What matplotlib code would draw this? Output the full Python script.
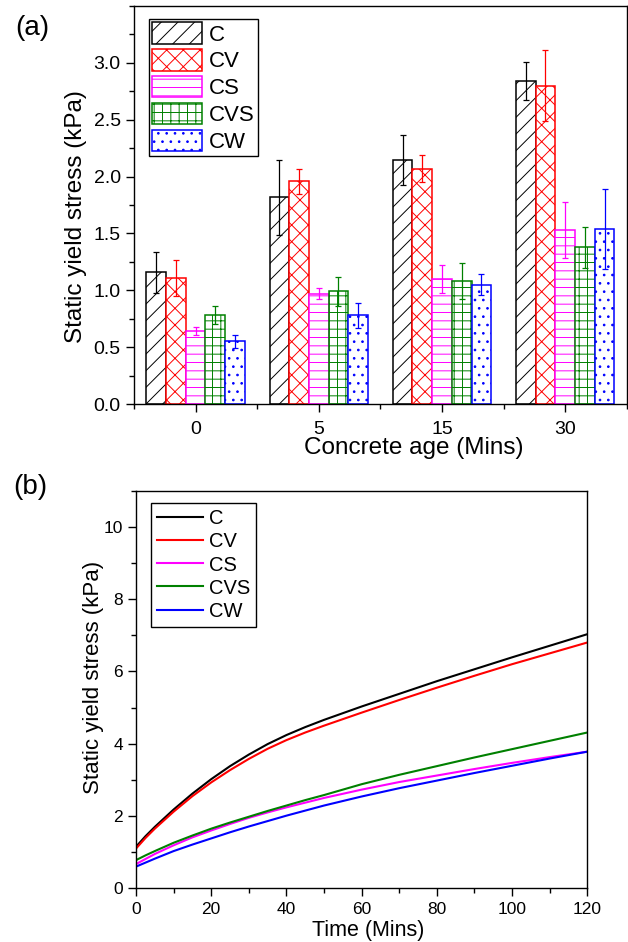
import numpy as np
import matplotlib
matplotlib.use("Agg")
import matplotlib.pyplot as plt
from matplotlib.ticker import MultipleLocator, FixedLocator

plt.rcParams['font.family'] = ['Liberation Sans', 'DejaVu Sans']
plt.rcParams['hatch.linewidth'] = 0.7

# ---- (a) bar data ----
ages = ['0', '5', '15', '30']
mixes = ['C', 'CV', 'CS', 'CVS', 'CW']

C_mean = [1.16, 1.82, 2.15, 2.84]
C_err = [0.18, 0.33, 0.22, 0.17]
CV_mean = [1.11, 1.96, 2.07, 2.80]
CV_err = [0.16, 0.11, 0.12, 0.31]
CS_mean = [0.64, 0.97, 1.10, 1.53]
CS_err = [0.035, 0.05, 0.12, 0.25]
CVS_mean = [0.78, 0.99, 1.08, 1.38]
CVS_err = [0.08, 0.125, 0.16, 0.18]
CW_mean = [0.55, 0.78, 1.05, 1.54]
CW_err = [0.055, 0.11, 0.09, 0.35]

# ---- (b) fitted curves ----
t = [0, 2.5, 5, 10, 15, 20, 25, 30, 35, 40, 45, 50, 60, 70, 80, 90, 100, 110, 120]
C_fit = [1.15, 1.44, 1.70, 2.18, 2.62, 3.02, 3.38, 3.70, 3.99, 4.24, 4.46, 4.66, 5.03,
         5.38, 5.73, 6.06, 6.39, 6.71, 7.03]
CV_fit = [1.10, 1.39, 1.65, 2.12, 2.55, 2.93, 3.27, 3.58, 3.86, 4.10, 4.31, 4.50, 4.86,
          5.21, 5.55, 5.88, 6.20, 6.50, 6.80]
CS_fit = [0.67, 0.81, 0.95, 1.19, 1.41, 1.60, 1.78, 1.95, 2.10, 2.24, 2.37, 2.50, 2.73,
          2.94, 3.12, 3.30, 3.47, 3.63, 3.78]
CVS_fit = [0.78, 0.91, 1.03, 1.26, 1.46, 1.65, 1.82, 1.98, 2.14, 2.29, 2.44, 2.58, 2.88,
           3.14, 3.38, 3.62, 3.85, 4.08, 4.31]
CW_fit = [0.60, 0.71, 0.82, 1.03, 1.21, 1.38, 1.55, 1.71, 1.86, 2.01, 2.15, 2.29, 2.54,
          2.77, 2.98, 3.19, 3.39, 3.59, 3.78]

colors = ['black', 'red', 'magenta', 'green', 'blue']
hatches = ['//', 'xx', '--', '++', '..']

means = [C_mean, CV_mean, CS_mean, CVS_mean, CW_mean]
errs = [C_err, CV_err, CS_err, CVS_err, CW_err]
fits = [C_fit, CV_fit, CS_fit, CVS_fit, CW_fit]

fig = plt.figure(figsize=(6.28, 9.42), dpi=100)
ax1 = fig.add_axes([0.2134, 0.5711, 0.7846, 0.4225])
ax2 = fig.add_axes([0.2166, 0.0570, 0.7186, 0.4221])

x = np.arange(1, len(ages) + 1)
w = 0.16
for i, m in enumerate(mixes):
    ax1.bar(x + (i - 2) * w, means[i], w, yerr=errs[i], color='white',
            edgecolor=colors[i], hatch=hatches[i], linewidth=1.1, label=m,
            error_kw=dict(ecolor=colors[i], elinewidth=0.9, capsize=2.5, capthick=0.9))

ax1.set_xlim(0.5, 4.5)
ax1.set_ylim(0, 3.5)
ax1.set_xticks(x)
ax1.set_xticklabels(ages)
ax1.xaxis.set_minor_locator(FixedLocator([0.5, 1.5, 2.5, 3.5, 4.5]))
ax1.set_yticks([0, 0.5, 1.0, 1.5, 2.0, 2.5, 3.0])
ax1.yaxis.set_minor_locator(MultipleLocator(0.25))
ax1.tick_params(axis='both', which='major', length=6, width=1, labelsize=14)
ax1.tick_params(axis='x', which='major', pad=6)
ax1.tick_params(axis='both', which='minor', length=3.5, width=1)
ax1.set_ylabel('Static yield stress (kPa)', fontsize=17.5)
ax1.yaxis.set_label_coords(-0.095, 0.47)
ax1.set_xlabel('Concrete age (Mins)', fontsize=17.5)
ax1.xaxis.set_label_coords(0.568, -0.083)
for s in ax1.spines.values():
    s.set_linewidth(1.0)
leg1 = ax1.legend(loc='upper left', bbox_to_anchor=(0.030, 0.967), borderaxespad=0,
                  fontsize=16, handlelength=2.25, handleheight=1.1, labelspacing=0.16,
                  handletextpad=0.3, borderpad=0.15, fancybox=False, framealpha=1)
leg1.get_frame().set_edgecolor('black')
leg1.get_frame().set_linewidth(1.0)

for i, m in enumerate(mixes):
    ax2.plot(t, fits[i], color=colors[i], linewidth=1.5, label=m)

ax2.set_xlim(0, 120)
ax2.set_ylim(0, 11)
ax2.xaxis.set_major_locator(MultipleLocator(20))
ax2.xaxis.set_minor_locator(MultipleLocator(10))
ax2.yaxis.set_major_locator(MultipleLocator(2))
ax2.yaxis.set_minor_locator(MultipleLocator(1))
ax2.tick_params(axis='both', which='major', length=6, width=1, labelsize=12.5)
ax2.tick_params(axis='both', which='minor', length=3.5, width=1)
ax2.set_ylabel('Static yield stress (kPa)', fontsize=16)
ax2.yaxis.set_label_coords(-0.07, 0.53)
ax2.set_xlabel('Time (Mins)', fontsize=15.5)
ax2.xaxis.set_label_coords(0.514, -0.08)
for s in ax2.spines.values():
    s.set_linewidth(1.0)
leg2 = ax2.legend(loc='upper left', bbox_to_anchor=(0.0326, 0.968), borderaxespad=0,
                  fontsize=14.5, handlelength=2.3, labelspacing=0.2,
                  handletextpad=0.3, borderpad=0.3, fancybox=False, framealpha=1)
leg2.get_frame().set_edgecolor('black')
leg2.get_frame().set_linewidth(1.0)

fig.text(0.051, 0.970, '(a)', fontsize=20, ha='center', va='center')
fig.text(0.049, 0.483, '(b)', fontsize=20, ha='center', va='center')

fig.savefig('out.png', dpi=100)
